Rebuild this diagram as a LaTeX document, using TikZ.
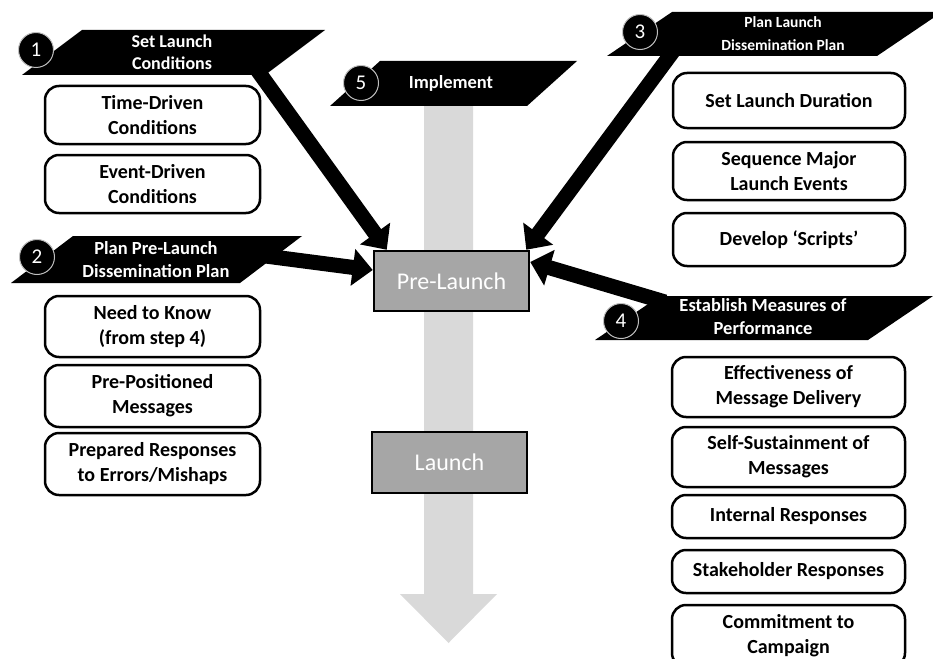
\documentclass[tikz,border=0pt]{standalone}
\usepackage{fontspec}
\setmainfont{Carlito}
\usetikzlibrary{arrows.meta}

\definecolor{boxgray}{HTML}{A6A6A6}
\definecolor{flowgray}{HTML}{D9D9D9}

\tikzset{
  stepbox/.style={draw,line width=2.5pt,rounded corners=14pt,align=center,inner sep=0pt,
    font=\bfseries\fontsize{20}{25}\selectfont},
  bantext/.style={text=white,align=center,inner sep=0pt,font=\bfseries\fontsize{18.5}{23}\selectfont},
  numdot/.style={circle,fill=black,draw=white!75!black,line width=1pt,minimum size=35pt,
    inner sep=0pt,text=white,font=\fontsize{21}{21}\selectfont},
  phase/.style={draw,line width=2.5pt,fill=boxgray,text=white,minimum width=155pt,
    font=\fontsize{24}{24}\selectfont},
  feed/.style={line width=15pt,-{Triangle[length=20pt,width=36pt]}}
}

\begin{document}
\begin{tikzpicture}[x=1pt,y=-1pt]
  \useasboundingbox (0,0) rectangle (933,658);
  % timeline
  \fill[flowgray] (424,106) -- (473,106) -- (473,594) -- (497,594) -- (448.5,643) -- (400,594) -- (424,594) -- cycle;
  \node[phase,minimum height=60pt] (pre) at (451.5,281) {Pre-Launch};
  \node[phase,minimum height=61pt] (launch) at (449.5,462.5) {Launch};

  % banners
  \foreach \x/\y/\w/\s/\h in {82/30/243/60/45,73/236/229/62/47,672/12/270/65/44,660/296/273/65/44,380/61/197/50/45} {
    \fill (\x,\y) -- ++(\w,0) -- ++(-\s,\h) -- ++(-\w,0) -- cycle;
  }
  \node[bantext,font=\bfseries\fontsize{18}{22}\selectfont] (t1) at (172,52.5) {Set Launch\\Conditions};
  \node[bantext] (t2) at (156,260) {Plan Pre-Launch\\Dissemination Plan};
  \node[bantext,font=\bfseries\fontsize{15.5}{23}\selectfont] (t3) at (783,34) {Plan Launch\\Dissemination Plan};
  \node[bantext] (t4) at (763,317) {Establish Measures of\\Performance};
  \node[bantext] (t5) at (451,83) {Implement};

  % feeds into pre-launch
  \coordinate (s1) at (250,60);
  \coordinate (s2) at (250,254);
  \coordinate (s3) at (680,42);
  \coordinate (s4) at (665,302);
  \draw[feed] (s1) -- ([xshift=14pt]pre.north west);
  \draw[feed] (s2) -- ([yshift=11pt]pre.west);
  \draw[feed] (s3) -- ([xshift=-4pt]pre.north east);
  \draw[feed] (s4) -- ([yshift=19pt]pre.east);

  \foreach \n/\x/\y in {1/36/50,2/37/257,3/640/32,4/621/321,5/361/83} {
    \node[numdot] (n\n) at (\x,\y) {\n};
  }

  % steps
  \foreach \n/\x/\y/\w/\h/\t in {
      tdc/152.5/115/215/58/{Time-Driven\\Conditions},
      edc/152.5/184/215/58/{Event-Driven\\Conditions},
      ntk/152.5/326.5/215/61/{Need to Know\\(from step 4)},
      ppm/152.5/396/215/62/{Pre-Positioned\\Messages},
      prm/152.5/464/215/62/{Prepared Responses\\to Errors/Mishaps},
      sld/789/100.5/232/55/{Set Launch Duration},
      sme/789/171/232/58/{Sequence Major\\Launch Events},
      dsc/789/239.5/232/53/{Develop ‘Scripts’},
      emd/788.5/387/233/60/{Effectiveness of\\Message Delivery},
      ssm/788.5/457/233/60/{Self-Sustainment of\\Messages},
      irs/788.5/516.5/233/43/{Internal Responses},
      shr/788.5/571.5/233/43/{Stakeholder Responses},
      ctc/788.5/636/233/62/{Commitment to\\Campaign}} {
    \node[stepbox,minimum width=\w,minimum height=\h] (\n) at (\x,\y) {\t};
  }
\end{tikzpicture}
\end{document}
